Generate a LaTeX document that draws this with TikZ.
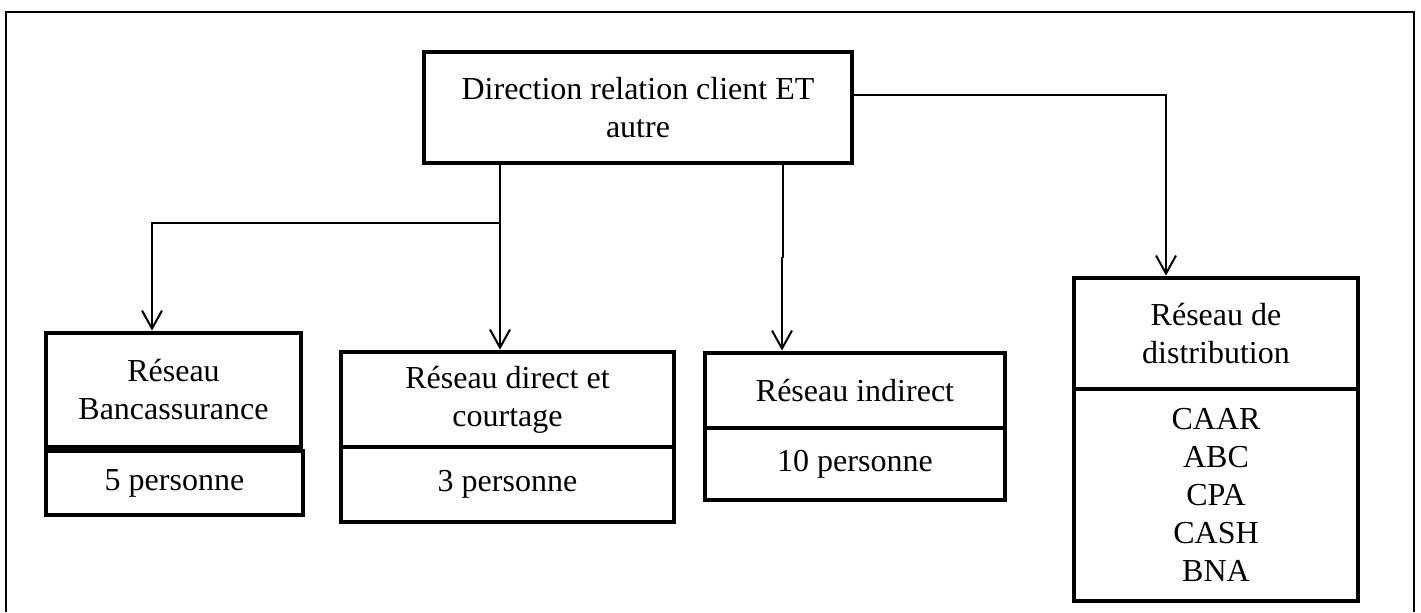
\documentclass[tikz,border=0pt]{standalone}
\usepackage{fontspec}
\setmainfont{Liberation Serif}
\usetikzlibrary{arrows.meta}
\begin{document}
\begin{tikzpicture}[x=0.5pt,y=-0.5pt,
  cell/.style={draw,line width=2.4pt,inner sep=0pt,align=center,
    font=\fontsize{16}{19}\selectfont},
  conn/.style={line width=1pt},
  arr/.style={conn,-{Straight Barb[length=9pt,width=10pt,line width=1pt]}}]
\useasboundingbox (0,0) rectangle (1421,612);
\draw[line width=0.9pt] (6,612) -- (6,12) -- (1414,12) -- (1414,612);
% nodes
\node[cell,minimum width=214pt,minimum height=55.5pt] (top) at (638,107.5) {Direction relation client ET\\autre};
\node[cell,minimum width=127.5pt,minimum height=57pt] (b1t) at (173.5,390) {Réseau\\Bancassurance};
\node[cell,minimum width=128.5pt,minimum height=32pt] (b1b) at (174.5,483) {5 personne};
\node[cell,minimum width=166.5pt,minimum height=47.5pt] (b2t) at (507.5,399.5) {Réseau direct et\\courtage};
\node[cell,minimum width=166.5pt,minimum height=37.5pt] (b2b) at (507.5,484.5) {3 personne};
\node[cell,minimum width=150pt,minimum height=37.5pt] (b3t) at (855,390.5) {Réseau indirect};
\node[cell,minimum width=150pt,minimum height=36pt] (b3b) at (855,464) {10 personne};
\node[cell,minimum width=142pt,minimum height=55.5pt] (b4t) at (1216,333.5) {Réseau de\\distribution};
\node[cell,minimum width=142pt,minimum height=106pt] (b4b) at (1216,495) {CAAR\\ABC\\CPA\\CASH\\BNA};
% connectors
\coordinate (j1) at (500,223);
\draw[arr] (top.south -| j1) -- (j1) -- (b2t.north -| j1);
\draw[arr] (j1) -| (b1t.north -| 152,0);
\draw[conn] (top.south -| 783,0) -- (783,257) -- (782,257);
\draw[arr] (782,257) -- (b3t.north -| 782,0);
\draw[arr] (top.east |- 0,95) -| (b4t.north -| 1166,0);
\end{tikzpicture}
\end{document}
